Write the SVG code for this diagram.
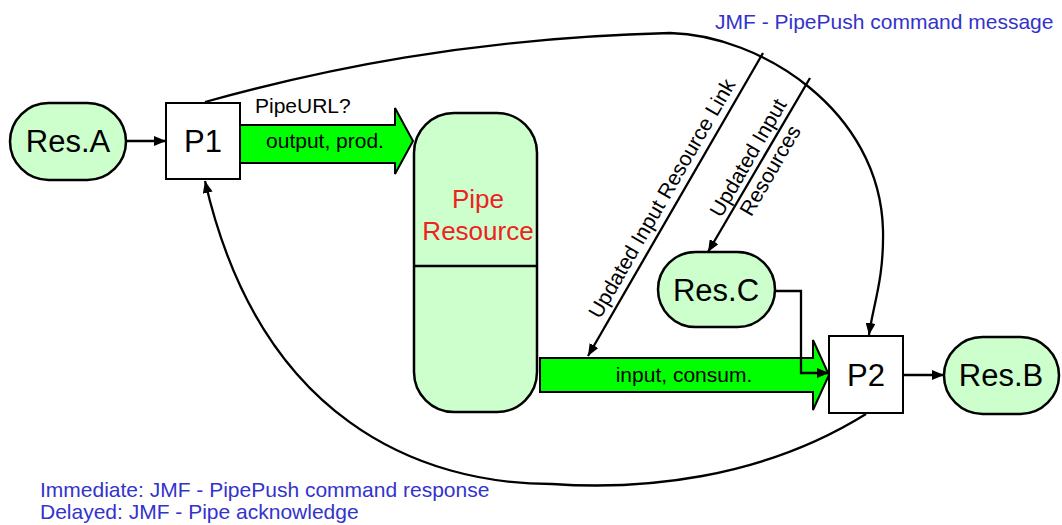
<svg xmlns="http://www.w3.org/2000/svg" width="1062" height="525" viewBox="0 0 1062 525">
<style>
text{font-family:"Liberation Sans",Arial,sans-serif;fill:#000}
.res{fill:#ccffcc;stroke:#000;stroke-width:2.5}
.proc{fill:#fff;stroke:#000;stroke-width:2}
.big{font-size:31px}
.lbl{font-size:21px}
.blue{fill:#3333cc;font-size:21px}
.red{fill:#ee2222;font-size:26px}
.conn{fill:none;stroke:#000;stroke-width:2.3}
.garrow{fill:#00ff00;stroke:#000;stroke-width:2}
</style>
<defs>
<marker id="ah" viewBox="0 0 12 10" refX="12" refY="5" markerWidth="12" markerHeight="10" markerUnits="userSpaceOnUse" orient="auto">
<path d="M0,0 L12,5 L0,10 Z" fill="#000"/>
</marker>
</defs>

<g id="arrow-output">
<path class="garrow" d="M240,125 L395,125 L395,108 L413,141 L395,174 L395,163 L240,163 Z"/>
<text class="lbl" x="325" y="148" text-anchor="middle">output, prod.</text>
</g>
<g id="arrow-input">
<path class="garrow" d="M540,358 L813,358 L813,340 L829,375 L813,410 L813,392 L540,392 Z"/>
<text class="lbl" x="684" y="382" text-anchor="middle">input, consum.</text>
</g>

<g id="connectors">
<path class="conn" d="M126,141 L166,141" marker-end="url(#ah)"/>
<path class="conn" d="M903,375 L944,375" marker-end="url(#ah)"/>
<path class="conn" d="M775,291 H801 V373 H829" marker-end="url(#ah)"/>
<path class="conn" d="M205,102 C320,70 470,38 670,33 C760,35 880,110 883,230 C884,280 873,305 869,335" marker-end="url(#ah)"/>
<path class="conn" d="M763,53 L588,356" marker-end="url(#ah)"/>
<path class="conn" d="M810,78 L708,252" marker-end="url(#ah)"/>
<path class="conn" d="M866,414 C760,480 640,490 552,484 C420,484 260,420 205,181" marker-end="url(#ah)"/>
</g>

<g id="resA">
<rect class="res" x="10" y="103" width="116" height="77" rx="38.5"/>
<text class="big" x="68" y="152" text-anchor="middle">Res.A</text>
</g>
<g id="P1">
<rect class="proc" x="166" y="103" width="74" height="76"/>
<text class="big" x="203" y="152" text-anchor="middle">P1</text>
</g>
<g id="pipe">
<rect class="res" x="414" y="113" width="123" height="299" rx="40"/>
<line x1="414" y1="266" x2="537" y2="266" stroke="#000" stroke-width="2.5"/>
<text class="red" x="478" y="208" text-anchor="middle">Pipe</text>
<text class="red" x="478" y="240" text-anchor="middle">Resource</text>
</g>
<g id="resC">
<rect class="res" x="658" y="252" width="117" height="75" rx="37.5"/>
<text class="big" x="716" y="301" text-anchor="middle">Res.C</text>
</g>
<g id="P2">
<rect class="proc" x="829" y="336" width="74" height="77"/>
<text class="big" x="866" y="386" text-anchor="middle">P2</text>
</g>
<g id="resB">
<rect class="res" x="944" y="337" width="115" height="77" rx="38.5"/>
<text class="big" x="1001" y="386" text-anchor="middle">Res.B</text>
</g>

<g id="labels">
<text class="lbl" x="255" y="113">PipeURL?</text>
<text class="lbl" transform="translate(668,202) rotate(-60)" text-anchor="middle">Updated Input Resource Link</text>
<text class="lbl" transform="translate(759,164) rotate(-60)" text-anchor="middle"><tspan x="0" y="-5.5">Updated Input</tspan><tspan x="0" y="20">Resources</tspan></text>
<text class="blue" x="715" y="29">JMF - PipePush command message</text>
<text class="blue" x="40" y="497">Immediate: JMF - PipePush command response</text>
<text class="blue" x="40" y="519">Delayed: JMF - Pipe acknowledge</text>
</g>
</svg>
